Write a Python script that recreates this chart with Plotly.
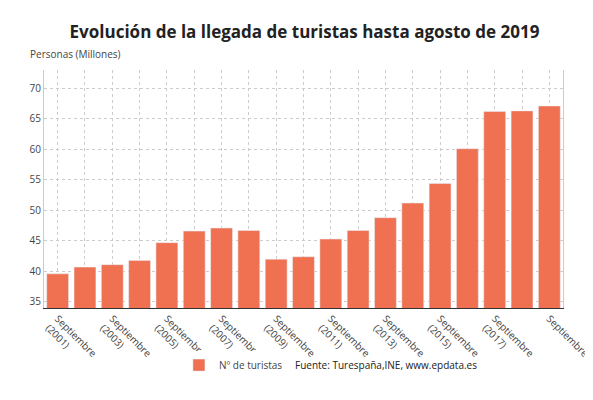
import plotly.graph_objects as go

years = list(range(2001, 2020))
turistas = [39.6, 40.7, 41.1, 41.8, 44.7, 46.6, 47.1, 46.7, 42.0, 42.4,
            45.3, 46.7, 48.8, 51.2, 54.4, 60.1, 66.2, 66.3, 67.1]
categorias = ["Septiembre<br>(%d)" % y for y in years]
categorias[-1] = "Septiembre"
tick_text = [c if i % 2 == 0 else "" for i, c in enumerate(categorias)]
y_ticks = [35, 40, 45, 50, 55, 60, 65, 70]

fig = go.Figure(go.Bar(
    x=categorias, y=turistas, name="Nº de turistas",
    marker_color="#f07052", width=0.8,
))
fig.update_layout(
    width=593, height=400,
    font=dict(family="Open Sans", size=10, color="#444"),
    title=dict(text="<b>Evolución de la llegada de turistas hasta agosto de 2019</b>",
               x=0.5, y=0.955, font=dict(size=17, color="#222")),
    paper_bgcolor="white", plot_bgcolor="white",
    margin=dict(l=36, r=38, t=62, b=100),
    showlegend=True,
    legend=dict(orientation="h", x=0.26, y=-0.24, xanchor="left",
                yanchor="middle", font=dict(size=10)),
    bargap=0.2,
)
fig.update_xaxes(tickangle=45, tickvals=categorias, ticktext=tick_text,
                 automargin=False,
                 showline=True, linecolor="#333", showgrid=True,
                 gridcolor="#ccc", griddash="dot", tickfont=dict(size=10))
fig.update_yaxes(range=[34, 73], tickvals=y_ticks, showgrid=True,
                 automargin=False,
                 gridcolor="#ccc", griddash="dot", showline=True,
                 linecolor="#ccc", mirror=True, tickfont=dict(size=10))
fig.add_annotation(text="Personas (Millones)", xref="paper", yref="paper",
                   x=-0.03, y=1.03, xanchor="left", yanchor="bottom",
                   showarrow=False, font=dict(size=10))
fig.add_annotation(text="Fuente: Turespaña,INE, www.epdata.es", xref="paper",
                   yref="paper", x=0.48, y=-0.24, xanchor="left", yanchor="middle",
                   showarrow=False, font=dict(size=10, color="#222"))
fig.write_html("out.html")
